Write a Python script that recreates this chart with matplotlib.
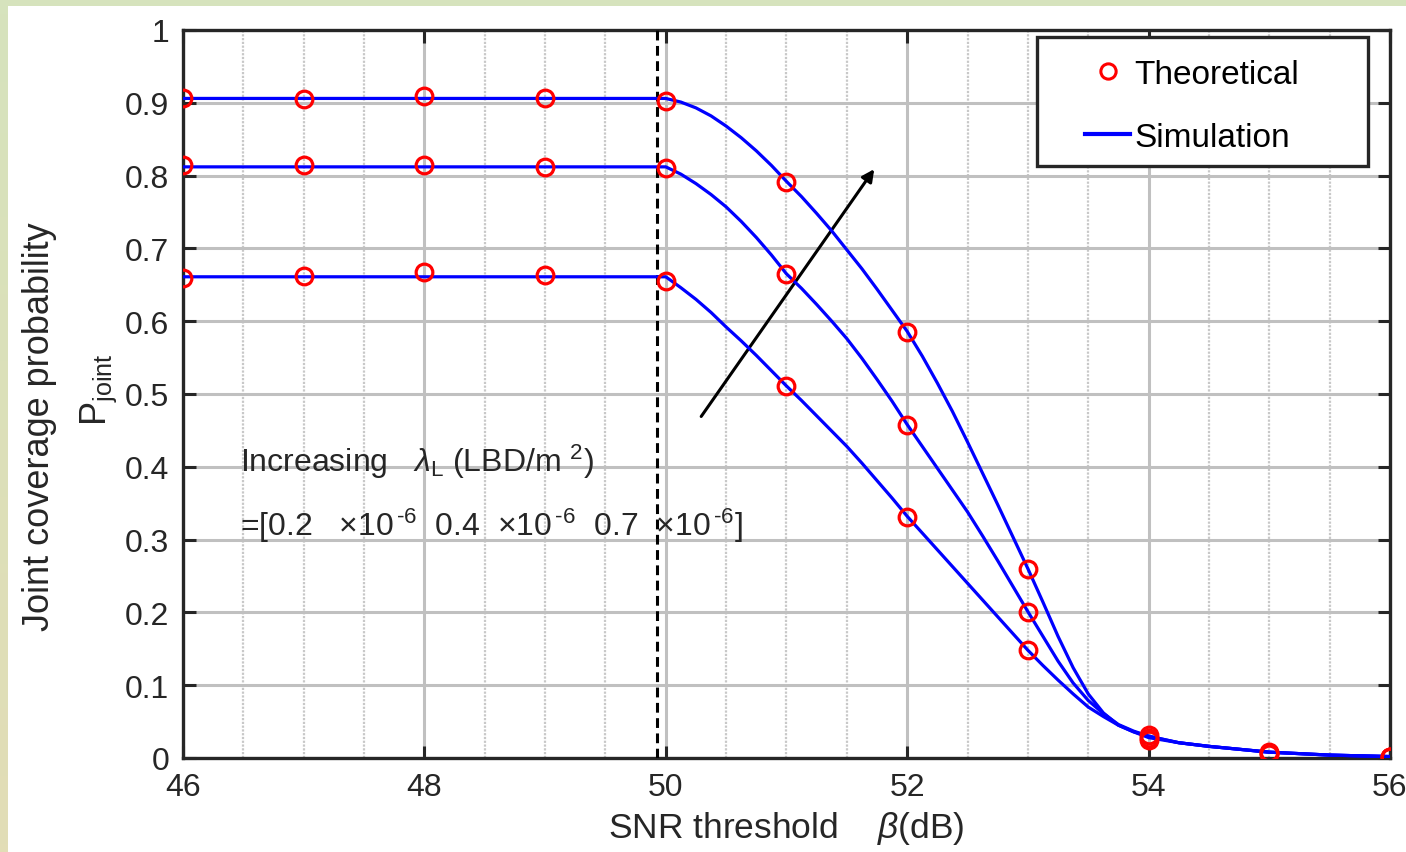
import numpy as np
import matplotlib
matplotlib.use('Agg')
import matplotlib.pyplot as plt
from matplotlib.patches import Rectangle
from matplotlib.lines import Line2D
from matplotlib.ticker import MultipleLocator
from matplotlib.colors import LinearSegmentedColormap

plt.rcParams['font.family'] = ['Liberation Sans', 'DejaVu Sans']
plt.rcParams['mathtext.fontset'] = 'custom'
plt.rcParams['mathtext.rm'] = 'Liberation Sans'
plt.rcParams['mathtext.it'] = 'Liberation Sans:italic'
plt.rcParams['mathtext.bf'] = 'Liberation Sans:bold'

# theoretical points (markers)
beta_theo = [46, 47, 48, 49, 50, 51, 52, 53, 54, 55, 56]
theo_07 = [0.907, 0.905, 0.909, 0.906, 0.903, 0.791, 0.585, 0.260, 0.031, 0.008, 0.002]
theo_04 = [0.814, 0.815, 0.814, 0.812, 0.811, 0.665, 0.458, 0.201, 0.028, 0.007, 0.002]
theo_02 = [0.659, 0.662, 0.667, 0.663, 0.655, 0.511, 0.331, 0.148, 0.025, 0.006, 0.002]

# simulation curves
beta_sim = [46, 50, 50.125, 50.25, 50.375, 50.5, 50.625, 50.75, 50.875,
            51, 51.125, 51.25, 51.375, 51.5, 51.625, 51.75, 51.875,
            52, 52.125, 52.25, 52.375, 52.5, 52.625, 52.75, 52.875,
            53, 53.125, 53.25, 53.375, 53.5, 53.625, 53.75, 53.875,
            54, 54.25, 54.5, 54.75, 55, 55.5, 56]
sim_07 = [0.906, 0.906, 0.901, 0.893, 0.882, 0.868, 0.852, 0.834, 0.814,
          0.792, 0.771, 0.748, 0.724, 0.698, 0.672, 0.644, 0.615,
          0.586, 0.552, 0.515, 0.476, 0.434, 0.391, 0.348, 0.304,
          0.260, 0.214, 0.167, 0.124, 0.088, 0.062, 0.045, 0.036,
          0.030, 0.021, 0.016, 0.012, 0.008, 0.004, 0.002]
sim_04 = [0.812, 0.812, 0.802, 0.789, 0.774, 0.757, 0.737, 0.715, 0.691,
          0.665, 0.645, 0.623, 0.600, 0.576, 0.549, 0.520, 0.490,
          0.458, 0.428, 0.398, 0.368, 0.338, 0.305, 0.271, 0.236,
          0.201, 0.167, 0.133, 0.103, 0.079, 0.061, 0.046, 0.037,
          0.030, 0.021, 0.016, 0.012, 0.008, 0.004, 0.002]
sim_02 = [0.661, 0.661, 0.646, 0.630, 0.612, 0.592, 0.573, 0.553, 0.532,
          0.511, 0.491, 0.470, 0.449, 0.428, 0.405, 0.381, 0.357,
          0.332, 0.309, 0.286, 0.263, 0.240, 0.217, 0.194, 0.171,
          0.148, 0.127, 0.107, 0.088, 0.070, 0.057, 0.045, 0.036,
          0.028, 0.021, 0.016, 0.012, 0.008, 0.004, 0.002]

x_ticks = [46, 48, 50, 52, 54, 56]
y_ticks = [0, 0.1, 0.2, 0.3, 0.4, 0.5, 0.6, 0.7, 0.8, 0.9, 1]
y_ticklabels = ['0', '0.1', '0.2', '0.3', '0.4', '0.5', '0.6', '0.7', '0.8', '0.9', '1']

W, H = 1406, 853
fig = plt.figure(figsize=(W / 100, H / 100), dpi=100)
fig.patch.set_facecolor('white')

# green frame at top and left
fig.patches.append(Rectangle((0, 1 - 7 / H), 1, 7 / H, transform=fig.transFigure,
                             facecolor='#d6e3bd', edgecolor='none', zorder=0))
bg = fig.add_axes([0, 0, 8 / W, 1 - 7 / H])
grad = np.linspace(0, 1, 100).reshape(-1, 1)
cm = LinearSegmentedColormap.from_list('g', ['#d6e3bd', '#e2ddb6'])
bg.imshow(grad, aspect='auto', cmap=cm, extent=[0, 1, 0, 1])
bg.axis('off')

ax = fig.add_axes([183 / W, 1 - 759 / H, (1390 - 183) / W, (759 - 31) / H])
ax.set_xlim(46, 56)
ax.set_ylim(0, 1)

ax.set_xticks(x_ticks)
ax.xaxis.set_minor_locator(MultipleLocator(0.5))
ax.set_yticks(y_ticks)
ax.set_yticklabels(y_ticklabels)
ax.grid(True, which='major', color='#c0c0c0', lw=2.2, zorder=0)
ax.grid(True, which='minor', axis='x', color='#c8c8c8', lw=1.6, ls=(0, (1.0, 0.7)), zorder=0)
ax.set_axisbelow(True)
ax.tick_params(which='major', direction='in', length=9, width=2.2, top=True, right=True,
               labelsize=23, labelcolor='#262626', color='#262626', pad=10)
ax.tick_params(which='minor', length=0)
for s in ax.spines.values():
    s.set_linewidth(2.4)
    s.set_color('#262626')

# vertical dashed line
ax.axvline(49.93, color='black', lw=2.2, ls=(0, (3.2, 1.8)), zorder=3)

for yv in [theo_07, theo_04, theo_02]:
    ax.plot(beta_theo, yv, 'o', ms=12, mfc='none', mec='#ff0000', mew=2.3, zorder=5)
for yv in [sim_07, sim_04, sim_02]:
    ax.plot(beta_sim, yv, '-', color='#0000ff', lw=2.3, zorder=4)

ax.annotate('', xy=(51.74, 0.812), xytext=(50.28, 0.466),
            arrowprops=dict(arrowstyle='-|>', color='black', lw=2.2, mutation_scale=18))

ax.text(46.47, 0.394, r'Increasing   $\lambda_{\mathrm{L}}$ (LBD/m $^{2}$)', fontsize=23,
        color='#262626', va='baseline', ha='left')
ax.text(46.47, 0.306,
        r'=[0.2   ×10$^{\,\text{-6}}$  0.4  ×10$^{\,\text{-6}}$  0.7  ×10$^{\,\text{-6}}$]',
        fontsize=23, color='#262626', va='baseline', ha='left')

ax.set_xlabel(r'SNR threshold    $\beta$(dB)', fontsize=25.5, color='#262626', labelpad=5)
fig.text(40 / W, 1 - 427 / H, 'Joint coverage probability', rotation=90, fontsize=26,
         color='#262626', ha='center', va='center')
fig.text(99 / W, 1 - 390 / H, r'P$_{\mathrm{joint}}$', rotation=90, fontsize=26,
         color='#262626', ha='center', va='center')

# legend: frame drawn separately so the padding matches
x0, x1 = (1037 - 183) / 1207, (1368 - 183) / 1207
y0, y1 = (759 - 167) / 728, (759 - 38) / 728
ax.add_patch(Rectangle((x0, y0), x1 - x0, y1 - y0, transform=ax.transAxes,
                       facecolor='white', edgecolor='#262626', lw=2.4, zorder=6))
handles = [Line2D([], [], ls='none', marker='o', ms=11, mfc='none', mec='#ff0000', mew=2.2),
           Line2D([], [], color='#0000ff', lw=3)]
leg = ax.legend(handles, ['Theoretical', 'Simulation'], loc='center', fontsize=24,
                frameon=False, handlelength=1.35, handletextpad=0.12, borderpad=0,
                labelspacing=0.96, bbox_to_anchor=((1192 - 183) / 1207, (759 - 107) / 728))
leg.set_zorder(7)

fig.savefig('out.png', dpi=100, facecolor=fig.get_facecolor())
